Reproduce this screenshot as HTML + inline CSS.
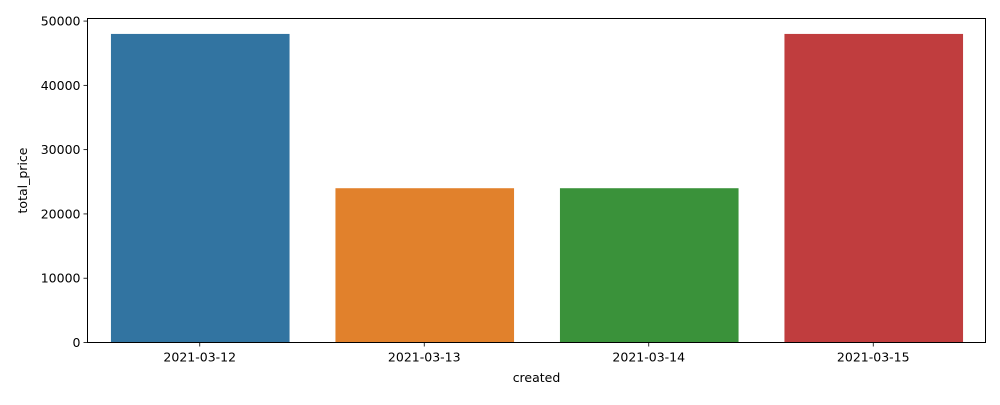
<!DOCTYPE html>
<html><head><meta charset="utf-8"><style>
body{margin:0;background:#fff;}
svg text{font-family:"DejaVu Sans","Liberation Sans",sans-serif;font-size:12.5px;fill:#000;}
</style></head><body>
<svg id="chart" width="1000" height="400">
<rect x="0" y="0" width="1000" height="400" fill="#fff"/>
<g id="bars"></g><g id="axes"></g>
</svg>
<script>
const categories = ["2021-03-12","2021-03-13","2021-03-14","2021-03-15"];
const totalPrice = [48000,24000,24000,48000];
const yTicks = [0,10000,20000,30000,40000,50000];
const colors = ["#3274a1","#e1812c","#3a923a","#c03d3e"];
const L=87.5,R=985.5,T=18.5,B=342.5,yMax=50400;
const ns="http://www.w3.org/2000/svg";
const y=v=>B-(B-T)*v/yMax;
const slot=(R-L)/categories.length;
const x=i=>L+slot*i+slot/2;
const bars=document.getElementById('bars'),axes=document.getElementById('axes');
function mk(tag,attrs,parent,text){const e=document.createElementNS(ns,tag);for(const k in attrs)e.setAttribute(k,attrs[k]);if(text!==undefined)e.textContent=text;parent.appendChild(e);return e;}
categories.forEach((c,i)=>{
  const w=slot*0.8;
  const r=mk('rect',{x:x(i)-w/2+1,y:y(totalPrice[i]),width:w-1,height:B-y(totalPrice[i]),fill:colors[i]},bars);
  
  
  mk('line',{x1:x(i),x2:x(i),y1:B,y2:B+4,stroke:'#000','stroke-width':0.8},axes);
  const t=mk('text',{x:x(i),y:B+19,'text-anchor':'middle'},axes,c);
  
  
});
yTicks.forEach(v=>{
  mk('line',{x1:L-4,x2:L,y1:y(v),y2:y(v),stroke:'#000','stroke-width':0.8},axes);
  const t=mk('text',{x:L-7,y:y(v)+4.5,'text-anchor':'end'},axes,String(v));
  
  
});
const f=mk('rect',{x:L,y:T,width:R-L,height:B-T,fill:'none',stroke:'#000','stroke-width':1},axes);


const xt=mk('text',{x:(L+R)/2,y:382,'text-anchor':'middle'},axes,'created');


const yt=mk('text',{x:27,y:(T+B)/2,'text-anchor':'middle',transform:'rotate(-90 27 '+((T+B)/2)+')'},axes,'total_price');


</script>
</body></html>
